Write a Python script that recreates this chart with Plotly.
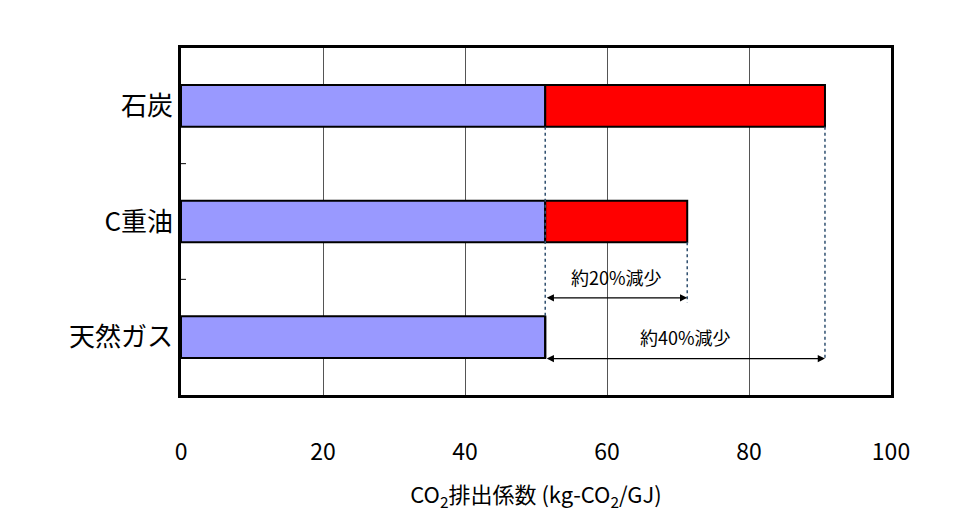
import plotly.graph_objects as go

categories = ["石炭", "C重油", "天然ガス"]
ypos = [2, 1, 0]
base_vals = [51.3, 51.3, 51.3]
extra_vals = [39.4, 20.0, 0.0]
xticks = [0, 20, 40, 60, 80, 100]

fig = go.Figure()
fig.add_trace(go.Bar(y=ypos, x=base_vals, orientation="h", width=0.36,
                     marker=dict(color="#9999FF", line=dict(color="black", width=2))))
fig.add_trace(go.Bar(y=ypos, x=extra_vals, base=base_vals, orientation="h", width=0.36,
                     marker=dict(color="#FF0000", line=dict(color="black", width=2))))

coal_end = base_vals[0] + extra_vals[0]
oil_end = base_vals[1] + extra_vals[1]
b = base_vals[0]
dot = dict(color="#2F4F6F", width=1.5, dash="dot")
fig.add_shape(type="line", x0=b, x1=b, y0=1.82, y1=0.18, line=dot)
fig.add_shape(type="line", x0=oil_end, x1=oil_end, y0=0.82, y1=0.30, line=dot)
fig.add_shape(type="line", x0=coal_end, x1=coal_end, y0=1.82, y1=-0.2, line=dot)

for x_end, ya, yt, txt in [(oil_end, 0.34, 0.52, "約20%減少"), (coal_end, -0.185, 0.0, "約40%減少")]:
    fig.add_annotation(x=x_end, y=ya, ax=b, ay=ya, xref="x", yref="y", axref="x", ayref="y",
                       showarrow=True, arrowhead=2, arrowside="end+start", arrowwidth=1.2, arrowsize=1.2,
                       arrowcolor="black", text="")
    fig.add_annotation(x=(b + x_end) / 2, y=yt, text=txt, showarrow=False,
                       font=dict(size=18, color="black"))

fig.update_layout(
    width=973, height=532, barmode="overlay", showlegend=False,
    plot_bgcolor="white", paper_bgcolor="white",
    margin=dict(l=173, r=90, t=40, b=145),
    font=dict(family="Noto Sans CJK JP", color="black"),
    xaxis=dict(range=[0, 100], tickvals=xticks, showgrid=True, gridcolor="#555", gridwidth=1,
               showline=True, linecolor="black", linewidth=2.5, mirror=True,
               ticks="outside", ticklen=35, tickcolor="white", tickfont=dict(size=23),
               title=dict(text="CO<sub>2</sub>排出係数 (kg-CO<sub>2</sub>/GJ)", font=dict(size=22), standoff=22),
               zeroline=False),
    yaxis=dict(range=[-0.5, 2.5], tickvals=ypos, ticktext=categories, showgrid=False,
               showline=True, linecolor="black", linewidth=2.5, mirror=True,
               tickfont=dict(size=26), ticks="", zeroline=False),
)
for yv in [0.5, 1.5]:
    fig.add_shape(type="line", xref="x", yref="y", x0=0, x1=0.7, y0=yv, y1=yv, line=dict(color="black", width=1))

fig.write_html("out.html")
